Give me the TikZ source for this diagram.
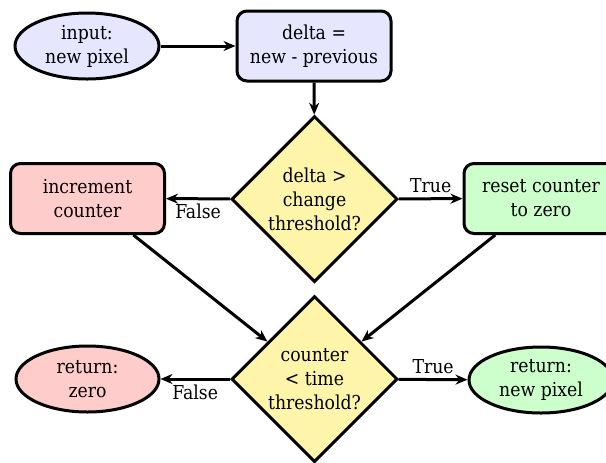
\documentclass[tikz,border=0pt]{standalone}
\usepackage{fontspec}
\setmainfont{DejaVu Serif Condensed}
\usetikzlibrary{shapes.geometric,arrows.meta}
\definecolor{cblue}{RGB}{230,230,255}
\definecolor{cred}{RGB}{255,204,204}
\definecolor{cgreen}{RGB}{204,255,204}
\definecolor{cyellow}{RGB}{255,245,170}
\tikzset{
  base/.style={draw=black, line width=1.5pt, align=center, inner sep=0pt, font=\fontsize{9.6}{12}\selectfont},
  termnode/.style={base, ellipse, minimum width=72pt, minimum height=33pt},
  procbox/.style={base, rectangle, rounded corners=5pt, minimum width=77pt, minimum height=35pt},
  decnode/.style={base, diamond, minimum width=83pt, minimum height=83pt},
  conn/.style={line width=1.5pt, -{Stealth[length=6pt,width=5pt]}},
  lbl/.style={font=\fontsize{9.6}{12}\selectfont, inner sep=2pt}
}
\begin{document}
\begin{tikzpicture}[x=0.5pt,y=-0.5pt]
\useasboundingbox (0,0) rectangle (606,462);
\node[termnode, fill=cblue] (input) at (87,46) {input:\\new pixel};
\node[procbox, fill=cblue] (delta) at (314,46) {delta =\\new - previous};
\node[decnode, fill=cyellow] (dec1) at (314.5,199) {delta >\\change\\threshold?};
\node[procbox, fill=cred] (inc) at (87.5,198.5) {increment\\counter};
\node[procbox, fill=cgreen] (reset) at (541,198.5) {reset counter\\to zero};
\node[decnode, fill=cyellow] (dec2) at (314.5,379) {counter\\< time\\threshold?};
\node[termnode, fill=cred, minimum width=71.5pt] (zero) at (87.5,379) {return:\\zero};
\node[termnode, fill=cgreen] (ret) at (541,380) {return:\\new pixel};
\draw[conn] (input) -- (delta);
\draw[conn] (delta) -- (dec1);
\draw[conn] (dec1) -- node[lbl, below] {False} (inc);
\draw[conn] (dec1) -- node[lbl, above] {True} (reset);
\draw[conn] (inc) -- (dec2);
\draw[conn] (reset) -- (dec2);
\draw[conn] (dec2) -- node[lbl, below] {False} (zero);
\draw[conn] (dec2) -- node[lbl, above] {True} (ret);
\end{tikzpicture}
\end{document}
